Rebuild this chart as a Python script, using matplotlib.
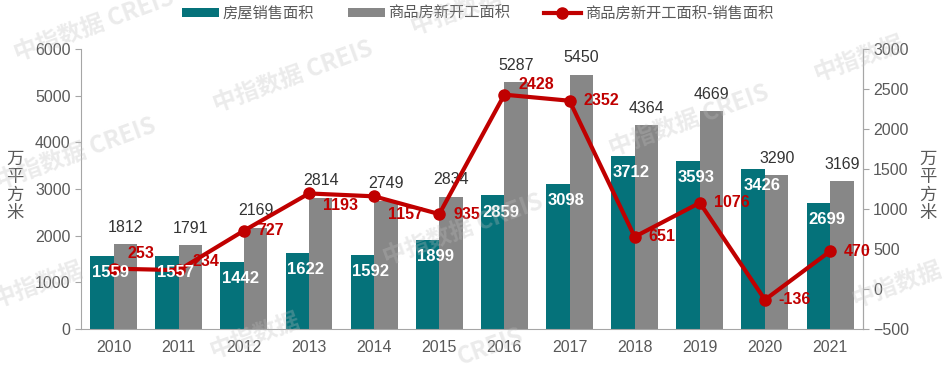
import numpy as np
import matplotlib.pyplot as plt

plt.rcParams['font.family'] = ['Noto Sans CJK SC', 'DejaVu Sans']

# data
years = ['2010', '2011', '2012', '2013', '2014', '2015',
         '2016', '2017', '2018', '2019', '2020', '2021']
sales = [1559, 1557, 1442, 1622, 1592, 1899, 2859, 3098, 3712, 3593, 3426, 2699]
starts = [1812, 1791, 2169, 2814, 2749, 2834, 5287, 5450, 4364, 4669, 3290, 3169]
diff = [253, 234, 727, 1193, 1157, 935, 2428, 2352, 651, 1076, -136, 470]

# vertical nudge of the red labels (points)
diff_dy = [11, 6, 0, -9, -13, 0, 7, 0, 0, 0, 0, 0]

teal = '#05727A'
grey = '#878787'
red = '#C00000'
axis_col = '#595959'
num_font = ['Liberation Sans']

fig = plt.figure(figsize=(9.44, 3.65), dpi=100)
ax = fig.add_axes([0.0858, 0.099, 0.828, 0.767])
ax2 = ax.twinx()

x = np.arange(len(years))
w = 0.36
ax.bar(x - w/2, sales, w, color=teal, label='房屋销售面积', zorder=2)
ax.bar(x + w/2, starts, w, color=grey, label='商品房新开工面积', zorder=2)

ax2.plot(x, diff, color=red, lw=3, marker='o', ms=8, label='商品房新开工面积-销售面积', zorder=4)

for i in range(len(years)):
    # white labels drawn on the top axes so they sit over the red line
    ax2.annotate(str(sales[i]), (x[i] - 0.05, sales[i]), xycoords=ax.transData,
                 xytext=(0, -12), textcoords='offset points', ha='center', va='center',
                 color='white', fontsize=12, fontweight='bold', family=num_font, zorder=6)
    ax.annotate(str(starts[i]), (x[i] + w/2, starts[i]), xytext=(0, 12),
                textcoords='offset points', ha='center', va='center',
                color='#333333', fontsize=11.5, family=num_font, zorder=3)
    ax2.annotate(str(diff[i]), (x[i], diff[i]), xytext=(10, diff_dy[i]),
                 textcoords='offset points', ha='left', va='center',
                 color=red, fontsize=11.5, fontweight='bold', family=num_font, zorder=5)

ax.set_xlim(-0.5, 11.5)
ax.set_ylim(0, 6000)
ax2.set_ylim(-500, 3000)
ax.set_yticks(range(0, 6001, 1000))
ax2.set_yticks(range(-500, 3001, 500))
ax.set_xticks(x)
ax.set_xticklabels(years)

for a in (ax, ax2):
    a.spines['top'].set_visible(False)
    for s in ('left', 'right', 'bottom'):
        a.spines[s].set_color('#A6A6A6')
    a.tick_params(axis='y', colors=axis_col, labelsize=11.5, length=4)
    a.tick_params(axis='y', color='#A6A6A6')
    for lab in a.get_yticklabels():
        lab.set_family(num_font)
ax.tick_params(axis='x', length=0, colors=axis_col, labelsize=11.5, pad=8)
for lab in ax.get_xticklabels():
    lab.set_family(num_font)
ax2.spines['left'].set_visible(False)
ax2.spines['bottom'].set_visible(False)

# vertical unit labels
fig.text(0.016, 0.49, '万\n平\n方\n米', ha='center', va='center', color=axis_col,
         fontsize=12.5, linespacing=1.0)
fig.text(0.983, 0.49, '万\n平\n方\n米', ha='center', va='center', color=axis_col,
         fontsize=12.5, linespacing=1.0)

# legend
h1, l1 = ax.get_legend_handles_labels()
h2, l2 = ax2.get_legend_handles_labels()
fig.legend(h1 + h2, l1 + l2, loc='upper center', bbox_to_anchor=(0.506, 1.025), ncol=3,
           frameon=False, fontsize=11, labelcolor=axis_col, handlelength=2.4,
           handleheight=0.5, columnspacing=2.2, handletextpad=0.25)

# watermarks
marks = [(0.10, 0.93, '中指数据 CREIS'), (0.31, 0.79, '中指数据 CREIS'),
         (0.08, 0.58, '中指数据 CREIS'), (0.04, 0.22, '中指数据'),
         (0.49, 0.37, '中指数据 CREIS'), (0.73, 0.67, '中指数据 CREIS'),
         (0.91, 0.84, '中指数据'), (0.95, 0.22, '中指数据'),
         (0.52, 1.0, '中指数据 CREIS'), (0.27, 0.08, '中指数据'),
         (0.52, 0.05, 'CREIS')]
for mx, my, t in marks:
    fig.text(mx, my, t, ha='center', va='center', rotation=20, fontsize=17,
             color='#BFBFBF', alpha=0.3, fontweight='bold', zorder=10)

fig.savefig('out.png', dpi=100)
